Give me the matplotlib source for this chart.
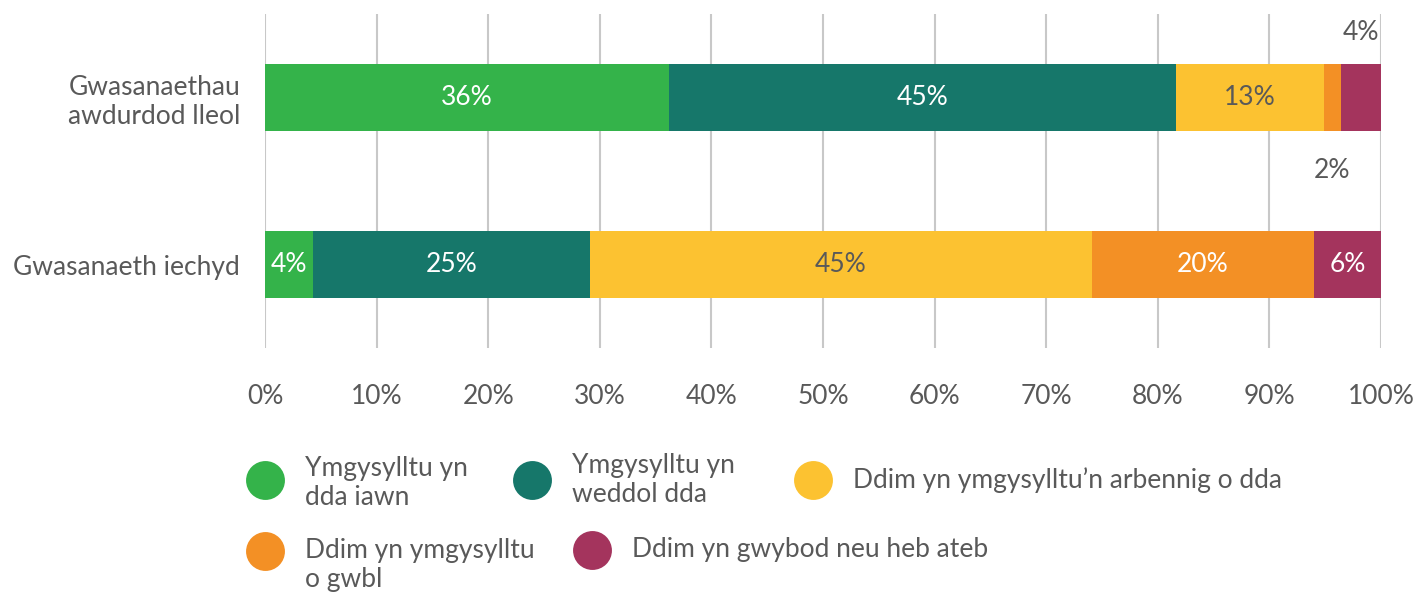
import matplotlib.pyplot as plt
import numpy as np

plt.rcParams['font.family'] = ['Lato', 'DejaVu Sans']

categories = ["Gwasanaethau\nawdurdod lleol", "Gwasanaeth iechyd"]
series_names = ["Ymgysylltu yn\ndda iawn", "Ymgysylltu yn\nweddol dda",
                "Ddim yn ymgysylltu’n arbennig o dda",
                "Ddim yn ymgysylltu\no gwbl", "Ddim yn gwybod neu heb ateb"]
colors = ["#34b34a", "#16776a", "#fcc231", "#f39025", "#a4345d"]
label_colors = ["white", "white", "#595959", "white", "white"]
# rows: categories, cols: series (percent)
values = np.array([
    [36.2, 45.4, 13.3, 1.5, 3.6],
    [4.3, 24.8, 45.0, 19.9, 6.0],
])
xticks = [0, 10, 20, 30, 40, 50, 60, 70, 80, 90, 100]

grey = "#595959"
fs = 19

fig = plt.figure(figsize=(14.28, 5.94), dpi=100)
ax = fig.add_axes([265 / 1428, 1 - 348 / 594, (1381 - 265) / 1428, (348 - 14) / 594])

ypos = np.arange(len(categories))
left = np.zeros(len(categories))
for j in range(values.shape[1]):
    ax.barh(ypos, values[:, j], left=left, height=0.4, color=colors[j], zorder=2)
    for i in range(len(categories)):
        v = values[i, j]
        xc = left[i] + v / 2
        txt = f"{v:.0f}%"
        if v < 3:
            ax.text(xc, 0.44, txt, ha="center", va="center", fontsize=fs, color=grey)
        elif v < 4 and i == 0:
            ax.text(xc, -0.39, txt, ha="center", va="center", fontsize=fs, color=grey)
        else:
            ax.text(xc, ypos[i], txt, ha="center", va="center", fontsize=fs,
                    color=label_colors[j])
    left = left + values[:, j]

ax.set_xlim(0, 100)
ax.set_ylim(1.5, -0.5)
ax.set_xticks(xticks)
ax.set_xticklabels([f"{t}%" for t in xticks])
ax.set_yticks(ypos)
ax.set_yticklabels(categories, linespacing=1.2)
ax.tick_params(axis="x", length=0, pad=26, labelsize=fs, labelcolor=grey)
ax.tick_params(axis="y", length=0, pad=18, labelsize=fs, labelcolor=grey)
for lbl in ax.get_yticklabels():
    lbl.set_horizontalalignment("right")
ax.grid(axis="x", color="#c8c8c8", linewidth=1.5, zorder=0)
ax.set_axisbelow(True)
for s in ax.spines.values():
    s.set_visible(False)

# legend drawn in pixel coordinates
lax = fig.add_axes([0, 0, 1, 1])
lax.set_xlim(0, 1428)
lax.set_ylim(594, 0)
lax.axis("off")
leg_pos = [(265, 480, 483), (532, 480, 480), (813, 480, 480), (265, 551, 565), (592, 550, 550)]
for (cx, cy, ty), name, c in zip(leg_pos, series_names, colors):
    lax.scatter([cx], [cy], s=784, color=c, linewidths=0)
    lax.text(cx + 40, ty, name, ha="left", va="center", fontsize=fs, color=grey,
             linespacing=1.17)

fig.savefig("out.png", dpi=100)
